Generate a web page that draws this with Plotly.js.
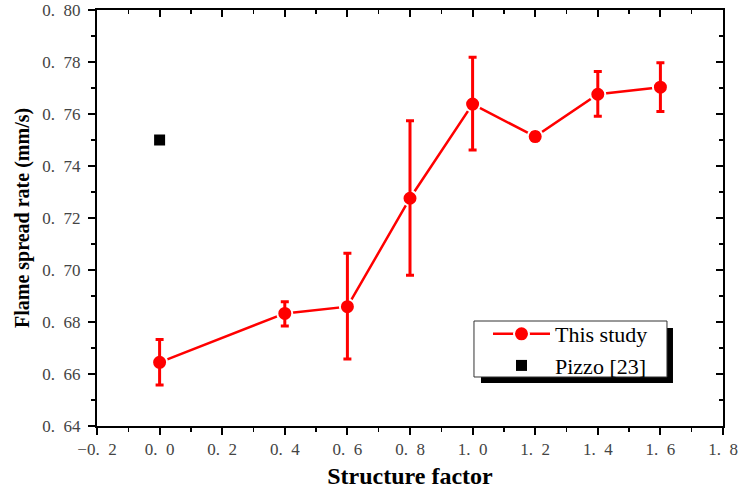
<!DOCTYPE html>
<html><head><meta charset="utf-8">
<script src="https://cdn.plot.ly/plotly-3.0.1.min.js"></script>
<style>html,body{margin:0;padding:0;background:#fff}#chart{width:740px;height:492px}</style>
</head><body><div id="chart"></div>
<script>
const structureFactor = [0.0, 0.4, 0.6, 0.8, 1.0, 1.2, 1.4, 1.6];
const spreadRate = [0.6645, 0.6833, 0.6859, 0.7276, 0.7638, 0.7513, 0.7676, 0.7703];
const errUpper = [0.0088, 0.0045, 0.0205, 0.0298, 0.0180, 0.0015, 0.0087, 0.0094];
const errLower = [0.0087, 0.0048, 0.0201, 0.0296, 0.0176, 0.0015, 0.0085, 0.0093];
const pizzoX = [0.0];
const pizzoY = [0.75];
const xTickVals = [-0.2, 0.0, 0.2, 0.4, 0.6, 0.8, 1.0, 1.2, 1.4, 1.6, 1.8];
const xTickText = ['\u22120.\u00a0\u00a02', '0.\u00a0\u00a00', '0.\u00a0\u00a02', '0.\u00a0\u00a04', '0.\u00a0\u00a06', '0.\u00a0\u00a08', '1.\u00a0\u00a00', '1.\u00a0\u00a02', '1.\u00a0\u00a04', '1.\u00a0\u00a06', '1.\u00a0\u00a08'];
const yTickVals = [0.64, 0.66, 0.68, 0.70, 0.72, 0.74, 0.76, 0.78, 0.80];
const yTickText = ['0.\u00a0\u00a064', '0.\u00a0\u00a066', '0.\u00a0\u00a068', '0.\u00a0\u00a070', '0.\u00a0\u00a072', '0.\u00a0\u00a074', '0.\u00a0\u00a076', '0.\u00a0\u00a078', '0.\u00a0\u00a080'];
const xTitle = 'Structure factor';
const yTitle = 'Flame spread rate (mm/s)';

const serif = 'Liberation Serif, Times New Roman, serif';
const tickFont = {family: serif, size: 17, color: '#444'};

const traces = [
  {
    x: structureFactor, y: spreadRate, type: 'scatter', mode: 'lines+markers', name: 'This study',
    line: {color: '#ff0000', width: 2.5},
    marker: {color: '#ff0000', size: 15, symbol: 'circle', line: {color: '#fff', width: 2}}
  },
  {
    x: structureFactor, y: spreadRate, type: 'scatter', mode: 'markers', showlegend: false,
    marker: {color: '#ff0000', size: 14, opacity: 0},
    error_y: {type: 'data', symmetric: false, array: errUpper, arrayminus: errLower,
              color: '#ff0000', thickness: 3, width: 4},
    hoverinfo: 'skip'
  },
  {
    x: pizzoX, y: pizzoY, type: 'scatter', mode: 'markers', name: 'Pizzo [23]',
    marker: {color: '#000', size: 11, symbol: 'square'}
  },
  {x: [0], y: [0.7], xaxis: 'x2', yaxis: 'y2', type: 'scatter', mode: 'markers',
   marker: {opacity: 0}, showlegend: false, hoverinfo: 'skip'}
];

const layout = {
  width: 740, height: 492,
  margin: {l: 97, r: 17, t: 10, b: 66},
  paper_bgcolor: '#fff', plot_bgcolor: '#fff',
  showlegend: true,
  xaxis: {
    range: [-0.2, 1.8], tickvals: xTickVals, ticktext: xTickText,
    showgrid: false, zeroline: false, showline: true, linecolor: '#000', linewidth: 2,
    ticks: 'outside', ticklen: 7, tickwidth: 2, tickcolor: '#000',
    minor: {dtick: 0.1, ticks: 'outside', ticklen: 4, tickwidth: 1.5, tickcolor: '#000'},
    tickfont: tickFont,
    title: {text: '<b>' + xTitle + '</b>', font: {family: serif, size: 24, color: '#000'}, standoff: 9}
  },
  yaxis: {
    range: [0.64, 0.80], tickvals: yTickVals, ticktext: yTickText,
    showgrid: false, zeroline: false, showline: true, linecolor: '#000', linewidth: 2,
    ticks: 'outside', ticklen: 7, tickwidth: 2, tickcolor: '#000', ticklabelstandoff: 4,
    minor: {dtick: 0.01, tick0: 0.64, ticks: 'outside', ticklen: 4, tickwidth: 1.5, tickcolor: '#000'},
    tickfont: tickFont
  },
  xaxis2: {
    overlaying: 'x', side: 'top', range: [-0.2, 1.8], tickvals: xTickVals, showticklabels: false,
    showgrid: false, zeroline: false, showline: true, linecolor: '#000', linewidth: 2,
    ticks: 'inside', ticklen: 7, tickwidth: 2, tickcolor: '#000',
    minor: {dtick: 0.1, ticks: 'inside', ticklen: 4, tickwidth: 1.5, tickcolor: '#000'}
  },
  yaxis2: {
    overlaying: 'y', side: 'right', range: [0.64, 0.80], tickvals: yTickVals, showticklabels: false,
    showgrid: false, zeroline: false, showline: true, linecolor: '#000', linewidth: 2,
    ticks: 'inside', ticklen: 7, tickwidth: 2, tickcolor: '#000',
    minor: {dtick: 0.01, tick0: 0.64, ticks: 'inside', ticklen: 4, tickwidth: 1.5, tickcolor: '#000'}
  },
  annotations: [
    {text: '<b>' + yTitle + '</b>', xref: 'paper', yref: 'paper', x: 0, y: 0.5,
     xanchor: 'center', yanchor: 'middle', xshift: -75, textangle: -90, showarrow: false,
     font: {family: serif, size: 20, color: '#000'}}
  ],
  legend: {
    x: 0.6246, y: 0.2716, xanchor: 'left', yanchor: 'top',
    bgcolor: 'rgba(0,0,0,0)', borderwidth: 0,
    font: {family: serif, size: 22, color: '#000'},
    tracegroupgap: 0, itemwidth: 57
  },
  shapes: [
    {type: 'rect', xref: 'paper', yref: 'paper', x0: 0.6134, x1: 0.9201, y0: 0.1034, y1: 0.2356,
     fillcolor: '#000', line: {width: 0}, layer: 'above'},
    {type: 'rect', xref: 'paper', yref: 'paper', x0: 0.6022, x1: 0.9105, y0: 0.1178, y1: 0.2524,
     fillcolor: '#fff', line: {color: '#333', width: 1}, layer: 'above'}
  ]
};

Plotly.newPlot('chart', traces, layout, {displayModeBar: false, staticPlot: true});
</script>
</body></html>
